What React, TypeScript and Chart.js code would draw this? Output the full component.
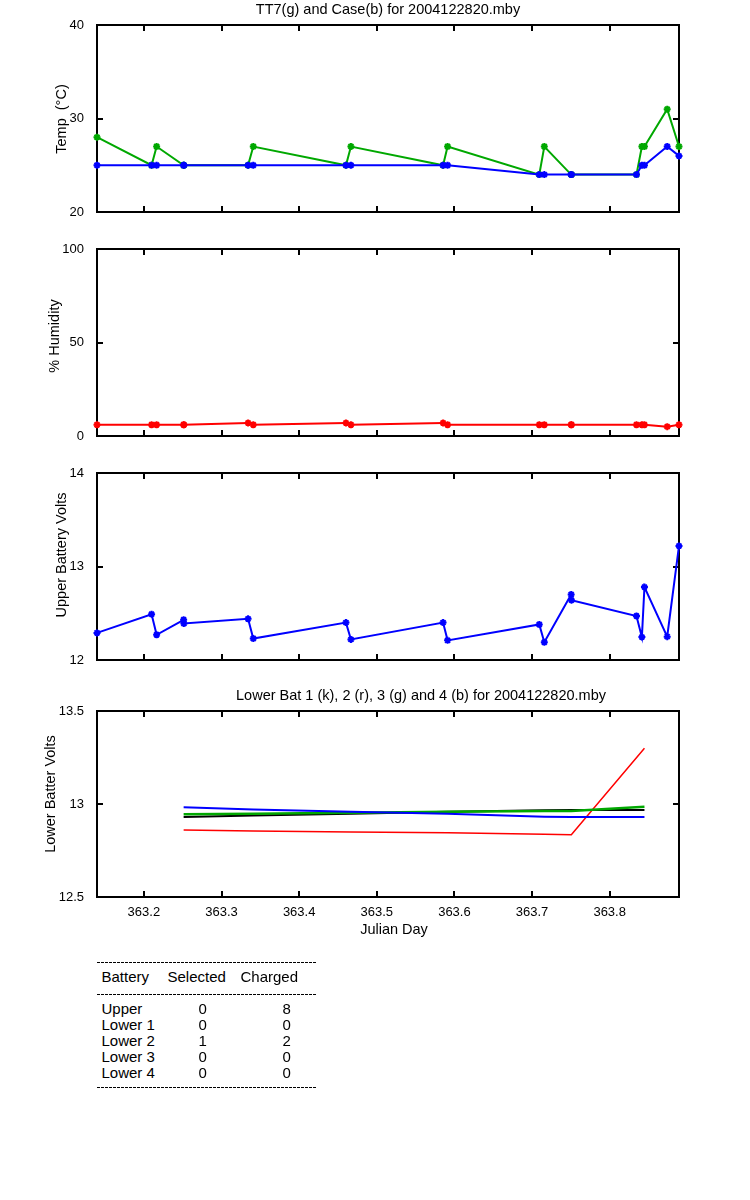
import React, { useEffect, useRef } from "react";
import { Chart, registerables } from "chart.js";

Chart.register(...registerables);

const FONT = '"Liberation Sans", Arial, Helvetica, sans-serif';
const GREEN = "#00a800";
const BLUE = "#0000ff";
const RED = "#ff0000";
const BLACK = "#000000";

// ---- data ----
// Julian day of each logged sample (two samples nearly coincide near 363.251 and 363.750)
const julianDay = [
  363.1396, 363.2099, 363.2164, 363.2512, 363.2515, 363.3342, 363.3409, 363.4603, 363.4667, 363.5854,
  363.5912, 363.7093, 363.7158, 363.7504, 363.7508, 363.8345, 363.8415, 363.8448, 363.8741, 363.8893,
];
const tt7Temp = [28, 25, 27, 25, 25, 25, 27, 25, 27, 25, 27, 24, 27, 24, 24, 24, 27, 27, 31, 27];
const caseTemp = [25, 25, 25, 25, 25, 25, 25, 25, 25, 25, 25, 24, 24, 24, 24, 24, 25, 25, 27, 26];
const humidity = [6, 6, 6, 6, 6, 7, 6, 7, 6, 7, 6, 6, 6, 6, 6, 6, 6, 6, 5, 6];
const upperVolts = [
  12.29, 12.49, 12.27, 12.43, 12.39, 12.44, 12.23, 12.4, 12.22, 12.4,
  12.21, 12.38, 12.19, 12.7, 12.64, 12.47, 12.245, 12.78, 12.25, 13.22,
];

const lowerDay = [363.2512, 363.3409, 363.4667, 363.5912, 363.7158, 363.7506, 363.8448];
const lowerBat1 = [12.93, 12.938, 12.948, 12.958, 12.966, 12.968, 12.968]; // k
const lowerBat2 = [12.86, 12.855, 12.85, 12.845, 12.838, 12.835, 13.3]; // r
const lowerBat3 = [12.945, 12.948, 12.953, 12.958, 12.962, 12.963, 12.985]; // g
const lowerBat4 = [12.982, 12.971, 12.958, 12.947, 12.932, 12.93, 12.93]; // b

const xTicks = [363.2, 363.3, 363.4, 363.5, 363.6, 363.7, 363.8];
const xTickLabels = ["363.2", "363.3", "363.4", "363.5", "363.6", "363.7", "363.8"];
const tempTicks = [20, 30, 40];
const humTicks = [0, 50, 100];
const upperTicks = [12, 13, 14];
const lowerTicks = [12.5, 13, 13.5];
const lowerTickLabels = ["12.5", "13", "13.5"];

const tableHeader = ["Battery", "Selected", "Charged"];
const batteryNames = ["Upper", "Lower 1", "Lower 2", "Lower 3", "Lower 4"];
const selectedCounts = [0, 0, 1, 0, 0];
const chargedCounts = [8, 0, 2, 0, 0];

const xMin = julianDay[0];
const xMax = julianDay[julianDay.length - 1];

// ---- layout ----
const W = 750;
const PLOT_LEFT = 97;
const PLOT_RIGHT = 679;

const framePlugin = {
  id: "frame",
  beforeDatasetsDraw(chart: any) {
    const { ctx, chartArea: a, scales } = chart;
    ctx.save();
    ctx.strokeStyle = "#000";
    ctx.lineWidth = 2;
    ctx.strokeRect(a.left, a.top, a.right - a.left, a.bottom - a.top);
    const L = 6;
    ctx.beginPath();
    scales.x.ticks.forEach((t: any) => {
      const p = Math.round(scales.x.getPixelForValue(t.value));
      ctx.moveTo(p, a.bottom);
      ctx.lineTo(p, a.bottom - L);
      ctx.moveTo(p, a.top);
      ctx.lineTo(p, a.top + L);
    });
    scales.y.ticks.forEach((t: any) => {
      const p = Math.round(scales.y.getPixelForValue(t.value));
      ctx.moveTo(a.left, p);
      ctx.lineTo(a.left + L, p);
      ctx.moveTo(a.right, p);
      ctx.lineTo(a.right - L, p);
    });
    ctx.stroke();
    ctx.restore();
  },
};

function series(xs: number[], ys: number[], color: string, order: number, markers: boolean, width = 2) {
  return {
    data: xs.map((x, i) => ({ x, y: ys[i] })),
    borderColor: color,
    backgroundColor: color,
    borderWidth: width,
    pointStyle: "star",
    pointRadius: markers ? 3.5 : 0,
    pointBorderWidth: 2,
    pointBorderColor: color,
    pointBackgroundColor: color,
    tension: 0,
    clip: false,
    order,
  };
}

type PanelSpec = {
  canvasTop: number;
  canvasHeight: number;
  plotTop: number;
  plotBottom: number;
  xAxisHeight: number;
  showXLabels: boolean;
  yMin: number;
  yMax: number;
  yTicks: number[];
  yTickLabels?: string[];
  datasets: any[];
};

function buildConfig(p: PanelSpec): any {
  return {
    type: "line",
    data: { datasets: p.datasets },
    options: {
      animation: false,
      responsive: false,
      devicePixelRatio: 1,
      layout: {
        padding: {
          left: 0,
          right: W - PLOT_RIGHT,
          top: p.plotTop - p.canvasTop,
          bottom: p.canvasTop + p.canvasHeight - p.plotBottom - p.xAxisHeight,
        },
      },
      plugins: { legend: { display: false }, tooltip: { enabled: false }, title: { display: false } },
      scales: {
        x: {
          type: "linear",
          min: xMin,
          max: xMax,
          grid: { display: false },
          border: { display: false },
          afterBuildTicks: (s: any) => {
            s.ticks = xTicks.map((v) => ({ value: v }));
          },
          ticks: {
            display: p.showXLabels,
            padding: 0,
            color: "#000",
            font: { family: FONT, size: 13 },
            maxRotation: 0,
            autoSkip: false,
            callback: (_v: any, i: number) => xTickLabels[i],
          },
          afterFit: (s: any) => {
            s.height = p.xAxisHeight;
          },
        },
        y: {
          type: "linear",
          min: p.yMin,
          max: p.yMax,
          grid: { display: false },
          border: { display: false },
          afterBuildTicks: (s: any) => {
            s.ticks = p.yTicks.map((v) => ({ value: v }));
          },
          ticks: {
            padding: 5,
            color: "#000",
            font: { family: FONT, size: 13 },
            callback: (v: any, i: number) => (p.yTickLabels ? p.yTickLabels[i] : String(v)),
          },
          afterFit: (s: any) => {
            s.width = PLOT_LEFT;
          },
        },
      },
    },
    plugins: [framePlugin],
  };
}

function Panel({ spec }: { spec: PanelSpec }) {
  const ref = useRef<HTMLCanvasElement>(null);
  useEffect(() => {
    const chart = new Chart(ref.current as HTMLCanvasElement, buildConfig(spec));
    return () => chart.destroy();
  }, []);
  return (
    <canvas
      ref={ref}
      width={W}
      height={spec.canvasHeight}
      style={{ position: "absolute", left: 0, top: spec.canvasTop, width: W, height: spec.canvasHeight }}
    />
  );
}

function Label({
  x,
  y,
  size = 14.5,
  rotate = false,
  align = "center",
  children,
}: {
  x: number;
  y: number;
  size?: number;
  rotate?: boolean;
  align?: "center" | "left";
  children: React.ReactNode;
}) {
  const tx = align === "center" ? "-50%" : "0";
  return (
    <div
      style={{
        position: "absolute",
        left: x,
        top: y,
        fontFamily: FONT,
        fontSize: size,
        lineHeight: 1,
        whiteSpace: "pre",
        color: "#000",
        transform: `translate(${tx}, -50%)` + (rotate ? " rotate(-90deg)" : ""),
      }}
    >
      {children}
    </div>
  );
}

function Dashes({ y }: { y: number }) {
  return (
    <div
      style={{
        position: "absolute",
        left: 97,
        top: y,
        width: 220,
        height: 1,
        background: "repeating-linear-gradient(to right, #000 0px, #000 3px, transparent 3px, transparent 4px)",
      }}
    />
  );
}

const panels: PanelSpec[] = [
  {
    canvasTop: 0,
    canvasHeight: 235,
    plotTop: 25,
    plotBottom: 212,
    xAxisHeight: 0,
    showXLabels: false,
    yMin: 20,
    yMax: 40,
    yTicks: tempTicks,
    datasets: [series(julianDay, caseTemp, BLUE, 0, true), series(julianDay, tt7Temp, GREEN, 1, true)],
  },
  {
    canvasTop: 235,
    canvasHeight: 225,
    plotTop: 249,
    plotBottom: 436,
    xAxisHeight: 0,
    showXLabels: false,
    yMin: 0,
    yMax: 100,
    yTicks: humTicks,
    datasets: [series(julianDay, humidity, RED, 0, true)],
  },
  {
    canvasTop: 460,
    canvasHeight: 220,
    plotTop: 473,
    plotBottom: 660,
    xAxisHeight: 0,
    showXLabels: false,
    yMin: 12,
    yMax: 14,
    yTicks: upperTicks,
    datasets: [series(julianDay, upperVolts, BLUE, 0, true)],
  },
  {
    canvasTop: 680,
    canvasHeight: 270,
    plotTop: 711,
    plotBottom: 897,
    xAxisHeight: 50,
    showXLabels: true,
    yMin: 12.5,
    yMax: 13.5,
    yTicks: lowerTicks,
    yTickLabels: lowerTickLabels,
    datasets: [
      series(lowerDay, lowerBat4, BLUE, 0, false),
      series(lowerDay, lowerBat3, GREEN, 1, false, 2.5),
      series(lowerDay, lowerBat2, RED, 2, false, 1.5),
      series(lowerDay, lowerBat1, BLACK, 3, false),
    ],
  },
];

const rowY = [1008.3, 1024.3, 1040.3, 1056.3, 1072.3];

export default function App() {
  return (
    <div style={{ position: "absolute", left: 0, top: 0, width: W, height: 1200, background: "#fff" }}>
      {panels.map((p, i) => (
        <Panel key={i} spec={p} />
      ))}
      <Label x={388} y={8.5}>TT7(g) and Case(b) for 2004122820.mby</Label>
      <Label x={61} y={119} rotate>
        {"Temp  (°C)"}
      </Label>
      <Label x={54} y={336} rotate>
        % Humidity
      </Label>
      <Label x={61} y={555} rotate>
        Upper Battery Volts
      </Label>
      <Label x={421} y={694.5}>Lower Bat 1 (k), 2 (r), 3 (g) and 4 (b) for 2004122820.mby</Label>
      <Label x={50} y={793.5} rotate>
        Lower Batter Volts
      </Label>
      <Label x={394} y={929}>Julian Day</Label>

      <Dashes y={962} />
      <Label x={101.5} y={976.2} size={15} align="left">
        {tableHeader[0]}
      </Label>
      <Label x={167.5} y={976.2} size={15} align="left">
        {tableHeader[1]}
      </Label>
      <Label x={240.5} y={976.2} size={15} align="left">
        {tableHeader[2]}
      </Label>
      <Dashes y={994} />
      {batteryNames.map((name, i) => (
        <React.Fragment key={name}>
          <Label x={101.5} y={rowY[i]} size={15} align="left">
            {name}
          </Label>
          <Label x={202.7} y={rowY[i]} size={15}>
            {String(selectedCounts[i])}
          </Label>
          <Label x={286.7} y={rowY[i]} size={15}>
            {String(chargedCounts[i])}
          </Label>
        </React.Fragment>
      ))}
      <Dashes y={1087} />
    </div>
  );
}
